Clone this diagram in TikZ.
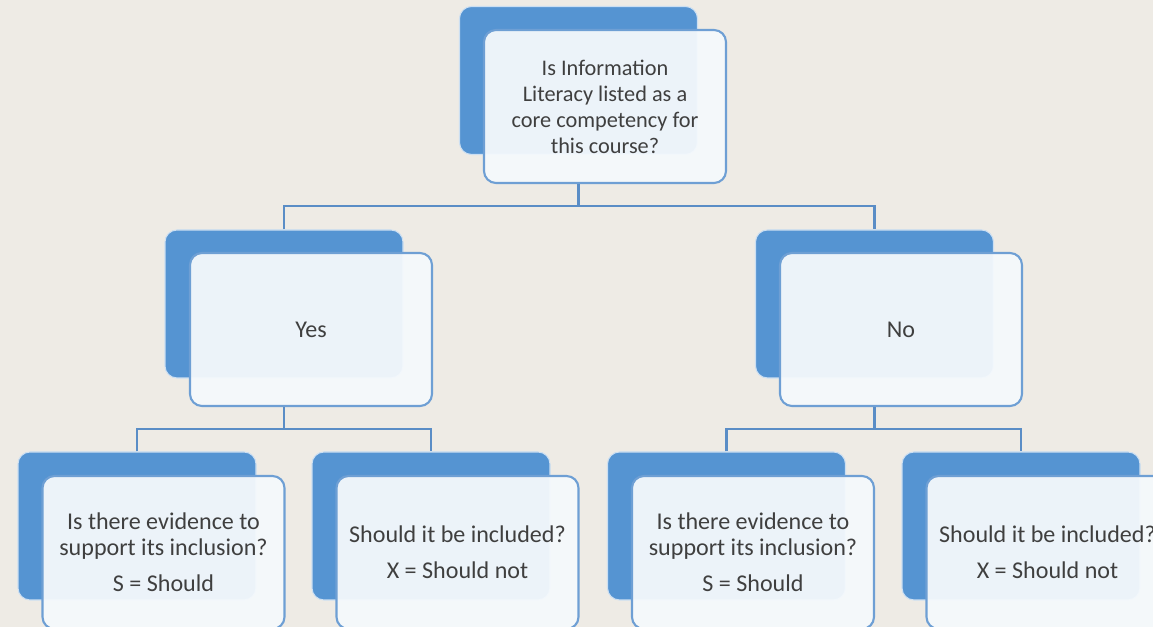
\documentclass[tikz,border=0pt]{standalone}
\usepackage{fontspec}
\setmainfont{Carlito}
\definecolor{paper}{HTML}{EEEBE5}
\definecolor{cardblue}{HTML}{5594D2}
\definecolor{edgeblue}{HTML}{6E9FD4}
\definecolor{linkblue}{HTML}{5A8DC6}
\definecolor{cardtext}{HTML}{3F3F3F}
\begin{document}
\begin{tikzpicture}[
    backcard/.style={draw=white!70!cardblue,line width=0.6pt,fill=cardblue,rounded corners=0.24cm,
      minimum width=4.76cm,minimum height=2.96cm},
    card/.style={draw=edgeblue,line width=1.2pt,fill=white!94!cardblue,fill opacity=0.95,text opacity=1,
      rounded corners=0.24cm,minimum width=4.84cm,minimum height=3.06cm,
      align=center,text=cardtext,font=\fontsize{13.7}{14.8}\selectfont},
    link/.style={draw=linkblue,line width=1.3pt}]
    \useasboundingbox (0,0) rectangle (23.06,12.54);
    \clip (0,0) rectangle (23.06,12.54);
    \fill[paper] (0,0) rectangle (23.06,12.54);
    % question
    \node[backcard] (qb) at (11.57,10.93) {};
    \node[card,font=\fontsize{12.7}{14.8}\selectfont] (q) at (12.1,10.41)
      {Is Information\\Literacy listed as a\\core competency for\\this course?};
    % yes / no
    \node[backcard] (yesb) at (5.68,6.46) {};
    \node[card] (yes) at (6.22,5.95) {Yes};
    \node[backcard] (nob) at (17.49,6.46) {};
    \node[card] (no) at (18.02,5.95) {No};
    % answers
    \node[backcard] (ysb) at (2.74,2.02) {};
    \node[card] (ys) at (3.27,1.49) {Is there evidence to\\support its inclusion?\\[0.2cm]S = Should};
    \node[backcard] (yxb) at (8.62,2.02) {};
    \node[card] (yx) at (9.15,1.49) {Should it be included?\\[0.2cm]X = Should not};
    \node[backcard] (nsb) at (14.53,2.02) {};
    \node[card] (ns) at (15.06,1.49) {Is there evidence to\\support its inclusion?\\[0.2cm]S = Should};
    \node[backcard] (nxb) at (20.42,2.02) {};
    \node[card] (nx) at (20.95,1.49) {Should it be included?\\[0.2cm]X = Should not};
    % connectors
    \draw[link] (qb.center |- q.south) -- ++(0,-0.44) coordinate (qbus);
    \draw[link] (yesb.north) |- (qbus) -| (nob.north);
    \draw[link] (yesb.center |- yes.south) -- ++(0,-0.44) coordinate (ybus);
    \draw[link] (ysb.north) |- (ybus) -| (yxb.north);
    \draw[link] (nob.center |- no.south) -- ++(0,-0.44) coordinate (nbus);
    \draw[link] (nsb.north) |- (nbus) -| (nxb.north);
\end{tikzpicture}
\end{document}
